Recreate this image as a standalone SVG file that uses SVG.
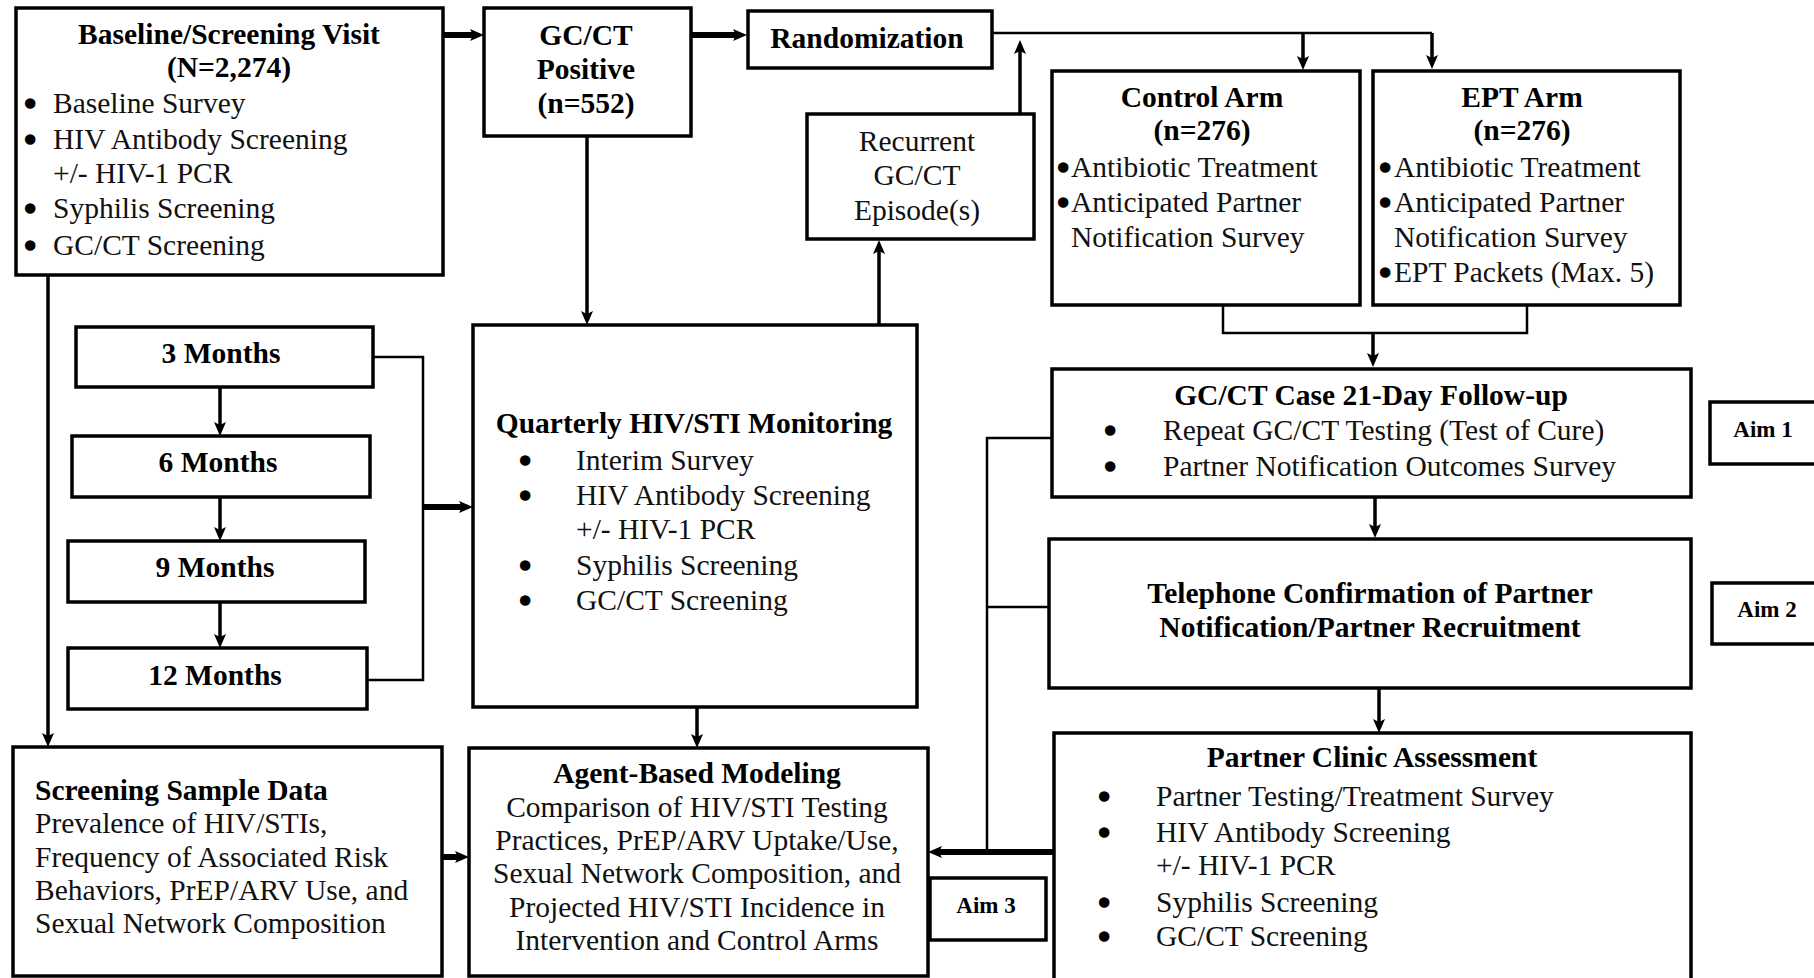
<svg xmlns="http://www.w3.org/2000/svg" width="1814" height="978" viewBox="0 0 1814 978">
  <style>
    .box { fill: #ffffff; stroke: #000000; stroke-width: 3.5; }
    .t { font-family: "Liberation Serif", "Times New Roman", serif; font-size: 29.5px; fill: #111111; }
    .b { font-family: "Liberation Serif", "Times New Roman", serif; font-size: 29.5px; font-weight: bold; fill: #000000; }
    .bul { font-family: "Liberation Serif", "Times New Roman", serif; font-size: 29.5px; fill: #000000; stroke: #000000; stroke-width: 3.5; stroke-linejoin: round; }
    .aim { font-family: "Liberation Serif", "Times New Roman", serif; font-size: 23px; font-weight: bold; fill: #000000; }
    .c { text-anchor: middle; }
    .thin { fill: none; stroke: #000000; stroke-width: 2.5; }
    .arr { fill: none; stroke: #000000; stroke-width: 3.5; marker-end: url(#head); }
    .fat { fill: none; stroke: #000000; stroke-width: 6; marker-end: url(#head); }
  </style>
  <defs>
    <marker id="head" viewBox="0 0 14 12" refX="3" refY="6" markerWidth="14" markerHeight="12" markerUnits="userSpaceOnUse" orient="auto">
      <path d="M0,0 L14,6 L0,12 L3,6 z" fill="#000000"/>
    </marker>
  </defs>
  <rect width="1814" height="978" fill="#ffffff"/>

  <!-- connectors -->
  <g id="connectors">
    <!-- baseline to GC/CT positive, then randomization -->
    <line class="fat" x1="444" y1="35" x2="473" y2="35"/>
    <line class="fat" x1="692" y1="35" x2="736" y2="35"/>
    <!-- randomization split to both arms -->
    <polyline class="thin" points="992,33 1432,33"/>
    <line class="arr" x1="1303" y1="33" x2="1303" y2="59"/>
    <line class="arr" x1="1432" y1="33" x2="1432" y2="58"/>
    <!-- recurrent episodes back to randomization -->
    <line class="arr" x1="1020" y1="114" x2="1020" y2="51"/>
    <line class="arr" x1="879" y1="325" x2="879" y2="251"/>
    <!-- GC/CT positive to quarterly monitoring -->
    <line class="arr" x1="587" y1="136" x2="587" y2="314"/>
    <!-- month sequence -->
    <line class="arr" x1="220" y1="387" x2="220" y2="425"/>
    <line class="arr" x1="220" y1="497" x2="220" y2="530"/>
    <line class="arr" x1="220" y1="602" x2="220" y2="637"/>
    <polyline class="thin" points="373,357 423,357 423,680 367,680"/>
    <line class="fat" x1="423" y1="507" x2="462" y2="507"/>
    <!-- baseline down to screening sample data -->
    <line class="arr" x1="48" y1="275" x2="48" y2="736"/>
    <!-- quarterly to agent-based modeling -->
    <line class="arr" x1="697" y1="707" x2="697" y2="737"/>
    <!-- screening sample data to agent-based modeling -->
    <line class="fat" x1="442" y1="857" x2="458" y2="857"/>
    <!-- both arms merge into 21-day follow-up -->
    <polyline class="thin" points="1223,305 1223,333 1527,333 1527,305"/>
    <line class="arr" x1="1373" y1="333" x2="1373" y2="356"/>
    <line class="arr" x1="1375" y1="497" x2="1375" y2="527"/>
    <line class="arr" x1="1379" y1="688" x2="1379" y2="722"/>
    <!-- follow-up outcomes feed agent-based modeling -->
    <polyline class="thin" points="1052,438 987,438 987,852"/>
    <line class="thin" x1="987" y1="607" x2="1049" y2="607"/>
    <line class="fat" x1="1054" y1="852" x2="939" y2="852"/>
  </g>

  <g id="baseline">
    <rect class="box" x="16" y="8" width="427" height="267"/>
    <text class="b c" x="229" y="44">Baseline/Screening Visit</text>
    <text class="b c" x="229" y="77">(N=2,274)</text>
    <text class="bul" x="25" y="114">•</text><text class="t" x="53" y="113">Baseline Survey</text>
    <text class="bul" x="25" y="150">•</text><text class="t" x="53" y="149">HIV Antibody Screening</text>
    <text class="t" x="53" y="183">+/- HIV-1 PCR</text>
    <text class="bul" x="25" y="219">•</text><text class="t" x="53" y="218">Syphilis Screening</text>
    <text class="bul" x="25" y="256">•</text><text class="t" x="53" y="255">GC/CT Screening</text>
  </g>

  <g id="gcct-positive">
    <rect class="box" x="484" y="8" width="207" height="128"/>
    <text class="b c" x="586" y="45">GC/CT</text>
    <text class="b c" x="586" y="79">Positive</text>
    <text class="b c" x="586" y="113">(n=552)</text>
  </g>

  <g id="randomization">
    <rect class="box" x="748" y="11" width="244" height="57"/>
    <text class="b c" x="867" y="48">Randomization</text>
  </g>

  <g id="recurrent">
    <rect class="box" x="807" y="114" width="227" height="125"/>
    <text class="t c" x="917" y="151">Recurrent</text>
    <text class="t c" x="917" y="185">GC/CT</text>
    <text class="t c" x="917" y="220">Episode(s)</text>
  </g>

  <g id="control-arm">
    <rect class="box" x="1052" y="71" width="308" height="234"/>
    <text class="b c" x="1202" y="107">Control Arm</text>
    <text class="b c" x="1202" y="140">(n=276)</text>
    <text class="bul" x="1058" y="178">•</text><text class="t" x="1071" y="177">Antibiotic Treatment</text>
    <text class="bul" x="1058" y="213">•</text><text class="t" x="1071" y="212">Anticipated Partner</text>
    <text class="t" x="1071" y="247">Notification Survey</text>
  </g>

  <g id="ept-arm">
    <rect class="box" x="1373" y="71" width="307" height="234"/>
    <text class="b c" x="1522" y="107">EPT Arm</text>
    <text class="b c" x="1522" y="140">(n=276)</text>
    <text class="bul" x="1380" y="178">•</text><text class="t" x="1394" y="177">Antibiotic Treatment</text>
    <text class="bul" x="1380" y="213">•</text><text class="t" x="1394" y="212">Anticipated Partner</text>
    <text class="t" x="1394" y="247">Notification Survey</text>
    <text class="bul" x="1380" y="283">•</text><text class="t" x="1394" y="282">EPT Packets (Max. 5)</text>
  </g>

  <g id="month-3">
    <rect class="box" x="76" y="327" width="297" height="60"/>
    <text class="b c" x="221" y="363">3 Months</text>
  </g>
  <g id="month-6">
    <rect class="box" x="72" y="436" width="298" height="61"/>
    <text class="b c" x="218" y="472">6 Months</text>
  </g>
  <g id="month-9">
    <rect class="box" x="68" y="541" width="297" height="61"/>
    <text class="b c" x="215" y="577">9 Months</text>
  </g>
  <g id="month-12">
    <rect class="box" x="68" y="648" width="299" height="61"/>
    <text class="b c" x="215" y="685">12 Months</text>
  </g>

  <g id="quarterly">
    <rect class="box" x="473" y="325" width="444" height="382"/>
    <text class="b c" x="694" y="433">Quarterly HIV/STI Monitoring</text>
    <text class="bul" x="520" y="471">•</text><text class="t" x="576" y="470">Interim Survey</text>
    <text class="bul" x="520" y="506">•</text><text class="t" x="576" y="505">HIV Antibody Screening</text>
    <text class="t" x="576" y="539">+/- HIV-1 PCR</text>
    <text class="bul" x="520" y="576">•</text><text class="t" x="576" y="575">Syphilis Screening</text>
    <text class="bul" x="520" y="611">•</text><text class="t" x="576" y="610">GC/CT Screening</text>
  </g>

  <g id="followup">
    <rect class="box" x="1052" y="369" width="639" height="128"/>
    <text class="b c" x="1371" y="405">GC/CT Case 21-Day Follow-up</text>
    <text class="bul" x="1105" y="441">•</text><text class="t" x="1163" y="440">Repeat GC/CT Testing (Test of Cure)</text>
    <text class="bul" x="1105" y="477">•</text><text class="t" x="1163" y="476">Partner Notification Outcomes Survey</text>
  </g>

  <g id="telephone">
    <rect class="box" x="1049" y="539" width="642" height="149"/>
    <text class="b c" x="1370" y="603">Telephone Confirmation of Partner</text>
    <text class="b c" x="1370" y="637">Notification/Partner Recruitment</text>
  </g>

  <g id="partner-clinic">
    <rect class="box" x="1054" y="733" width="637" height="250"/>
    <text class="b c" x="1372" y="767">Partner Clinic Assessment</text>
    <text class="bul" x="1099" y="807">•</text><text class="t" x="1156" y="806">Partner Testing/Treatment Survey</text>
    <text class="bul" x="1099" y="843">•</text><text class="t" x="1156" y="842">HIV Antibody Screening</text>
    <text class="t" x="1156" y="875">+/- HIV-1 PCR</text>
    <text class="bul" x="1099" y="913">•</text><text class="t" x="1156" y="912">Syphilis Screening</text>
    <text class="bul" x="1099" y="947">•</text><text class="t" x="1156" y="946">GC/CT Screening</text>
  </g>

  <g id="screening-sample">
    <rect class="box" x="13" y="747" width="429" height="229"/>
    <text class="b" x="35" y="800">Screening Sample Data</text>
    <text class="t" x="35" y="833">Prevalence of HIV/STIs,</text>
    <text class="t" x="35" y="867">Frequency of Associated Risk</text>
    <text class="t" x="35" y="900">Behaviors, PrEP/ARV Use, and</text>
    <text class="t" x="35" y="933">Sexual Network Composition</text>
  </g>

  <g id="agent-model">
    <rect class="box" x="469" y="748" width="459" height="228"/>
    <text class="b c" x="697" y="783">Agent-Based Modeling</text>
    <text class="t c" x="697" y="817">Comparison of HIV/STI Testing</text>
    <text class="t c" x="697" y="850">Practices, PrEP/ARV Uptake/Use,</text>
    <text class="t c" x="697" y="883">Sexual Network Composition, and</text>
    <text class="t c" x="697" y="917">Projected HIV/STI Incidence in</text>
    <text class="t c" x="697" y="950">Intervention and Control Arms</text>
  </g>

  <g id="aim-1">
    <rect class="box" x="1710" y="402" width="120" height="62"/>
    <text class="aim c" x="1763" y="437">Aim 1</text>
  </g>
  <g id="aim-2">
    <rect class="box" x="1712" y="583" width="120" height="61"/>
    <text class="aim c" x="1767" y="617">Aim 2</text>
  </g>
  <g id="aim-3">
    <rect class="box" x="930" y="878" width="116" height="62"/>
    <text class="aim c" x="986" y="913">Aim 3</text>
  </g>
</svg>
